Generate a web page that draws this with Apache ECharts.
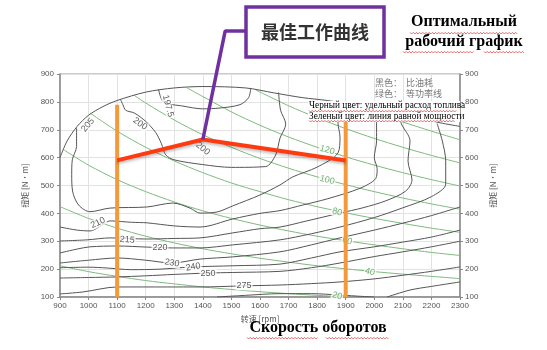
<!DOCTYPE html>
<html><head><meta charset="utf-8">
<script src="https://cdn.jsdelivr.net/npm/echarts@6/dist/echarts.min.js"></script>
<style>html,body{margin:0;padding:0;background:#fff}#c{width:547px;height:350px}</style>
</head><body><div id="c"></div>
<script>
// ---- axes ----
const rpmRange = [900, 2300];
const torqueRange = [100, 900];

// ---- BSFC contours (black) [rpm, N·m] ----
const bsfcOuter = [[900,600],[925,660],[960,712],[1000,752],[1050,783],[1100,805],[1200,835],[1300,850],[1400,855],[1550,850],[1650,832],[1750,815],[1835,805],[1950,785],[2050,765],[2150,745],[2230,725],[2300,712]];
const bsfc1975 = [[1245,845],[1262,800],[1330,785],[1400,775],[1460,778],[1530,790],[1560,815],[1568,850]];
const bsfc200 = [[1112,808],[1120,790],[1130,770],[1160,760],[1200,730],[1235,690],[1255,650],[1270,610],[1300,592],[1400,575],[1500,565],[1620,568],[1655,610],[1670,670],[1690,720],[1672,770],[1665,834]];
const bsfc205 = [[958,706],[958,640],[943,592],[941,540],[944,480],[965,430],[1005,406],[1075,419],[1205,423],[1295,437],[1355,419],[1390,401],[1450,405],[1505,427],[1600,466],[1670,502],[1715,531],[1800,566],[1873,617],[1880,674],[1873,724],[1880,795]];
const bsfc210 = [[900,351],[960,340],[1005,337],[1050,360],[1075,373],[1150,368],[1205,366],[1300,355],[1390,351],[1505,380],[1600,400],[1670,410],[1750,430],[1835,452],[1950,490],[2005,525],[2010,560],[2000,600],[2008,660],[2008,721],[2000,768]];
const bsfc215 = [[900,301],[995,305],[1075,312],[1205,308],[1300,310],[1390,312],[1505,330],[1600,345],[1670,351],[1760,372],[1880,401],[1960,420],[2040,445],[2110,480],[2132,520],[2118,588],[2125,660],[2095,721],[2090,750]];
const bsfc220 = [[900,258],[960,272],[1005,280],[1100,283],[1205,279],[1295,276],[1390,276],[1505,287],[1670,305],[1780,327],[1880,351],[2000,385],[2100,420],[2200,460],[2250,505],[2250,588],[2238,660],[2220,722]];
const bsfc230 = [[900,222],[1000,232],[1100,240],[1200,232],[1292,222],[1390,236],[1505,244],[1670,262],[1780,287],[1880,312],[2000,340],[2100,365],[2200,392],[2300,423]];
const bsfc240 = [[900,205],[1000,207],[1065,204],[1150,198],[1250,200],[1366,208],[1505,212],[1670,218],[1780,240],[1880,262],[2000,280],[2100,297],[2200,315],[2300,340]];
const bsfc250 = [[900,168],[1000,170],[1100,172],[1200,176],[1300,181],[1418,186],[1505,188],[1670,192],[1780,205],[1880,222],[2000,245],[2100,262],[2200,280],[2300,300]];
const bsfc275 = [[900,111],[980,118],[1100,136],[1275,136],[1390,136],[1544,140],[1670,143],[1780,148],[1880,154],[2000,165],[2100,178],[2200,192],[2300,208]];
const bsfc300a = [[1450,100],[1550,106],[1670,112],[1780,112],[1880,107],[1960,102],[2000,100]];
const bsfc300b = [[2045,100],[2125,125],[2200,138],[2300,154]];

const bsfcLabels = [[998,717,'205'],[1278,785,'197.5'],[1180,721,'200'],[1400,632,'200'],[1033,366,'210'],[1135,305,'215'],[1250,278,'220'],[1292,222,'230'],[1366,208,'240'],[1418,186,'250'],[1544,140,'275']];
const bsfcLabelRot = [50,-75,-35,-40,25,-5,0,-10,10,0,0];

// ---- iso-power lines (green) [rpm, N·m], kW ----
const power20 = [[900,212],[1000,191],[1100,174],[1200,159],[1300,147],[1400,136],[1500,127],[1600,119],[1700,112],[1800,106],[1910,100]];
const power40 = [[900,424],[1000,382],[1100,347],[1200,318],[1300,294],[1400,273],[1500,255],[1600,239],[1700,225],[1800,212],[1900,201],[2000,191],[2100,182],[2200,174],[2300,166]];
const power60 = [[910,630],[1000,573],[1100,521],[1200,478],[1300,441],[1400,409],[1500,382],[1600,358],[1700,337],[1800,318],[1900,302],[2000,287],[2100,273],[2200,260],[2300,249]];
const power80 = [[1005,760],[1100,695],[1200,637],[1300,588],[1400,546],[1500,509],[1600,478],[1700,449],[1800,424],[1900,402],[2000,382],[2100,364],[2200,347],[2300,332]];
const power100 = [[1160,823],[1200,796],[1300,735],[1400,682],[1500,637],[1600,597],[1700,562],[1800,531],[1900,503],[2000,478],[2100,455],[2200,434],[2300,415]];
const power120 = [[1345,850],[1400,819],[1500,764],[1600,716],[1700,674],[1800,637],[1900,603],[2000,573],[2100,546],[2200,521],[2300,498]];
const power140 = [[1585,843],[1700,786],[1800,743],[1900,704],[2000,669],[2100,637],[2200,608],[2300,581]];
const power160 = [[1950,784],[2000,764],[2100,728],[2200,695],[2300,664]];
const powerLabels = [[1835,627,'120'],[1835,520,'100'],[1870,405,'80'],[1905,301,'60'],[1985,190,'40'],[1870,104,'20']];

// ---- optimal operating ----
const speedLow = [[1100,100],[1100,790]];
const speedHigh = [[1900,100],[1900,735]];
const optimalCurve = [[1100,590],[1400,665],[1900,590]];
const pointerLine = [[1400,665],[1478,1054],[1552,1054]];

const chart = echarts.init(document.getElementById('c'), null, {renderer:'canvas'});

const axisLbl = {fontSize:8, color:'#555', fontFamily:'Liberation Sans', formatter:v=>String(v)};
const series = [];
[power20,power40,power60,power80,power100,power120,power140,power160].forEach(d=>{
  series.push({type:'line', data:d, smooth:0.3, symbol:'none', silent:true, z:2,
    lineStyle:{color:'#7dba7d', width:1}});
});
[bsfcOuter,bsfc1975,bsfc200,bsfc205,bsfc210,bsfc215,bsfc220,bsfc230,bsfc240,bsfc250,bsfc275,bsfc300a,bsfc300b].forEach(d=>{
  series.push({type:'line', data:d, smooth:0.3, symbol:'none', silent:true, z:3,
    lineStyle:{color:'#555', width:1}});
});
series.push({type:'scatter', symbolSize:1, silent:true, z:4, itemStyle:{color:'rgba(0,0,0,0)'},
  data: bsfcLabels.map((d,i)=>({value:[d[0],d[1]], name:d[2], label:{rotate:bsfcLabelRot[i]}})),
  label:{show:true, position:'inside', formatter:'{b}', fontSize:9, color:'#333', fontFamily:'Liberation Sans', backgroundColor:'#fff', padding:[0,1]}});
series.push({type:'scatter', symbolSize:1, silent:true, z:4, itemStyle:{color:'rgba(0,0,0,0)'},
  data: powerLabels.map(d=>({value:[d[0],d[1]], name:d[2]})),
  label:{show:true, position:'inside', formatter:'{b}', fontSize:9, color:'#4f9a4f', fontFamily:'Liberation Sans', backgroundColor:'#fff', padding:[0,1], rotate:-15}});
[speedLow, speedHigh].forEach(d=>{
  series.push({type:'line', data:d, symbol:'none', silent:true, z:6, lineStyle:{color:'#f59a3c', width:4}});
});
series.push({type:'line', data:optimalCurve, symbol:'none', silent:true, z:7,
  lineStyle:{color:'#ff3a10', width:4, shadowColor:'rgba(0,0,0,0.25)', shadowBlur:3, shadowOffsetY:2}});
series.push({type:'line', data:pointerLine, symbol:'none', silent:true, z:8, clip:false,
  lineStyle:{color:'#7030a0', width:3.5}});

function wave(x1,x2,y){const p=[];let i=0;for(let x=x1;x<=x2;x+=1.6,i++){p.push([x,y+(i%2?1:-0.6)]);}return p;}
const serif = '"Liberation Serif","Times New Roman",serif';
const graphic = [
  {type:'rect', z:100, shape:{x:246,y:7,width:138,height:50}, style:{fill:'#fff', stroke:'#7030a0', lineWidth:3.5}},
  {type:'text', z:101, x:315, y:32, style:{text:'最佳工作曲线', font:'bold 18px "Noto Sans CJK SC"', fill:'#333', align:'center', verticalAlign:'middle'}},
  {type:'text', z:101, x:464, y:22, style:{text:'Оптимальный', font:'bold 16px '+serif, fill:'#000', align:'center', verticalAlign:'middle'}},
  {type:'text', z:101, x:464, y:42, style:{text:'рабочий график', font:'bold 16px '+serif, fill:'#000', align:'center', verticalAlign:'middle'}},
  {type:'text', z:101, x:318, y:328, style:{text:'Скорость оборотов', font:'bold 16px '+serif, fill:'#000', align:'center', verticalAlign:'middle'}},
  {type:'text', z:101, x:375, y:83, style:{text:'黑色：  比油耗', font:'9px "Noto Sans CJK SC"', fill:'#777', align:'left', verticalAlign:'middle'}},
  {type:'text', z:101, x:375, y:94, style:{text:'绿色：  等功率线', font:'9px "Noto Sans CJK SC"', fill:'#777', align:'left', verticalAlign:'middle'}},
  {type:'rect', z:100, shape:{x:308,y:101,width:152,height:21}, style:{fill:'#fff'}},
  {type:'text', z:101, x:309, y:106, style:{text:'Черный цвет: удельный расход топлива', font:'9.3px '+serif, fill:'#000', align:'left', verticalAlign:'middle'}},
  {type:'text', z:101, x:309, y:117, style:{text:'Зеленый цвет: линия равной мощности', font:'9.3px '+serif, fill:'#000', align:'left', verticalAlign:'middle'}},
];
[[410,518,33],[403,474,52],[484,525,52],[247,318,338],[326,389,338],[309,457,111],[309,455,121]].forEach(w=>{
  graphic.push({type:'polyline', z:102, shape:{points:wave(w[0],w[1],w[2])}, style:{stroke:'#e03030', lineWidth:0.7, fill:null}});
});

chart.setOption({
  animation:false,
  grid:{left:60, top:74, width:400, height:223, show:true, borderColor:'#999', borderWidth:1},
  xAxis:{type:'value', min:rpmRange[0], max:rpmRange[1], interval:100,
    name:'转速 [rpm]', nameLocation:'middle', nameGap:13, nameTextStyle:{fontSize:8, color:'#555', fontFamily:'Noto Sans CJK SC'},
    axisLine:{show:true, onZero:false, lineStyle:{color:'#888', width:1.5}},
    axisTick:{show:true, length:3, lineStyle:{color:'#888'}},
    axisLabel:Object.assign({margin:5}, axisLbl),
    splitLine:{show:true, lineStyle:{color:'#e2e2e2'}}},
  yAxis:[
    {type:'value', min:torqueRange[0], max:torqueRange[1], interval:100, position:'left',
     name:'扭矩 [N·m]', nameLocation:'middle', nameGap:31, nameRotate:90, nameTextStyle:{fontSize:8, color:'#555', fontFamily:'Noto Sans CJK SC'},
     axisLine:{show:true, lineStyle:{color:'#888', width:1.5}},
     axisTick:{show:true, length:3, lineStyle:{color:'#888'}},
     axisLabel:Object.assign({margin:6}, axisLbl),
     splitLine:{show:true, lineStyle:{color:'#e2e2e2'}}},
    {type:'value', min:torqueRange[0], max:torqueRange[1], interval:100, position:'right',
     name:'扭矩 [N·m]', nameLocation:'middle', nameGap:27, nameRotate:90, nameTextStyle:{fontSize:8, color:'#555', fontFamily:'Noto Sans CJK SC'},
     axisLine:{show:true, lineStyle:{color:'#888', width:1.5}},
     axisTick:{show:true, length:3, lineStyle:{color:'#888'}},
     axisLabel:Object.assign({margin:5}, axisLbl),
     splitLine:{show:false}}
  ],
  series: series,
  graphic: graphic
});
</script></body></html>
